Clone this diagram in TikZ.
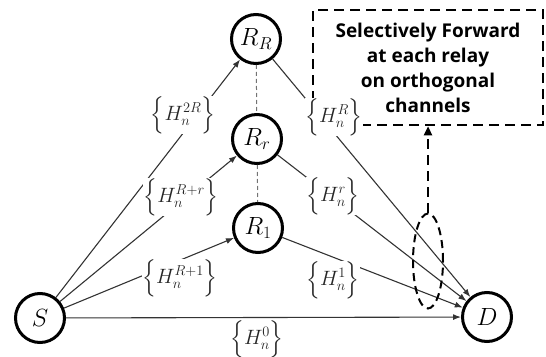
\documentclass[tikz,border=0pt]{standalone}
\usepackage{amsmath}
\usepackage{fontspec}
\newfontfamily\notefont{Open Sans}
\usetikzlibrary{arrows.meta,shapes.geometric,calc}
\newcommand{\chset}[1]{\Bigl\{H_n^{#1}\Bigr\}}
\begin{document}
\begin{tikzpicture}[x=1pt,y=-1pt,
  relay/.style={circle,draw,line width=3pt,minimum size=49pt,inner sep=0pt,font=\fontsize{26}{26}\selectfont},
  term/.style={relay,font=\fontsize{30}{30}\selectfont},
  edge/.style={line width=1.1pt,draw=black!80},
  arr/.style={edge,-{Latex[length=8pt,width=6pt]}},
  lab/.style={fill=white,inner sep=0.5pt,text=black!85,font=\fontsize{22}{22}\selectfont},
  link/.style={dash pattern=on 4pt off 3pt,draw=black!55,line width=1pt},
  note/.style={draw,line width=2.5pt,dash pattern=on 10pt off 6pt,align=center,
    font=\notefont\bfseries\fontsize{19}{25}\selectfont,inner sep=0pt},
  noteline/.style={line width=2.5pt,dash pattern=on 10pt off 6pt,-{Triangle[length=9pt,width=8pt]}},
  group/.style={ellipse,draw,line width=2pt,dash pattern=on 8pt off 5pt,inner sep=0pt}
]
\useasboundingbox (0,0) rectangle (546,356);
\node[term] (S) at (40,318) {$S$};
\node[term] (D) at (487,317) {$D$};
\node[relay] (RR) at (256,39) {$R_R$};
\node[relay] (Rr) at (257,139) {$R_r$};
\node[relay] (R1) at (258,228) {$R_1$};

\draw[arr] (S) -- (RR);
\draw[arr] (S) -- (Rr);
\draw[arr] (S) -- (R1);
\draw[arr] (S) -- (D);
\draw[arr] (RR) -- (D);
\draw[arr] (Rr) -- (D);
\draw[arr] (R1) -- (D);
\draw[link] (RR) -- (Rr);
\draw[link] (Rr) -- (R1);

\node[note,minimum width=230pt,minimum height=115pt] (box) at (428,67.5)
  {Selectively Forward\\at each relay\\on orthogonal\\channels};

\node[group,minimum width=30pt,minimum height=95pt] (ell) at (428,261) {};
\draw[noteline] (ell.north) -- (ell.north |- box.south);

\node[lab] (l2R) at (183,115) {$\chset{2R}$};
\node[lab] (lRr) at (181,197) {$\chset{R+r}$};
\node[lab] (lR1) at (180,278) {$\chset{R+1}$};
\node[lab] (l0) at (257,339) {$\chset{0}$};
\node[lab] (lR) at (334,117) {$\chset{R}$};
\node[lab] (lr) at (333,196) {$\chset{r}$};
\node[lab] (l1) at (333,280) {$\chset{1}$};
\end{tikzpicture}
\end{document}
